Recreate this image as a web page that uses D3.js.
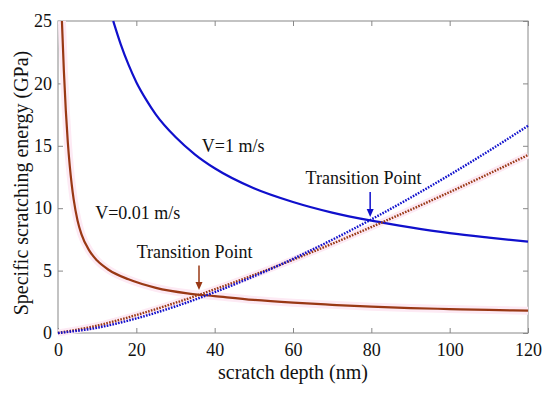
<!DOCTYPE html>
<html>
<head>
<meta charset="utf-8">
<script src="https://cdn.jsdelivr.net/npm/d3@7"></script>
<style>
  body { margin: 0; background: #fff; }
  text { font-family: "Liberation Serif", "Times New Roman", serif; fill: #111; }
</style>
</head>
<body>
<div id="chart-area"></div>
<script>
// Data
let lowDepth = [1.0, 1.5, 2, 2.5, 3, 3.5, 4, 5, 6, 8, 10, 13, 18, 25, 33, 40, 50, 60, 70, 80, 90, 100, 110, 120]
let lowEnergy = [25, 21, 17.8, 15.3, 13.4, 11.9, 10.7, 9.0, 7.9, 6.6, 5.8, 5.05, 4.3, 3.62, 3.18, 2.96, 2.65, 2.43, 2.26, 2.11, 2.0, 1.92, 1.85, 1.79]

let highDepth = [14.1, 16, 18, 20, 22.5, 25, 30, 35, 40, 50, 60, 70, 80, 90, 100, 110, 120]
let highEnergy = [25, 23.15, 21.5, 20.1, 18.7, 17.5, 15.7, 14.3, 13.2, 11.6, 10.5, 9.65, 9.0, 8.46, 8.0, 7.64, 7.32]

let dotDepth = [0, 10, 20, 30, 40, 50, 60, 70, 80, 90, 100, 110, 120]
let lowDotted = [0, 0.59, 1.44, 2.42, 3.5, 4.65, 5.87, 7.15, 8.49, 9.87, 11.29, 12.76, 14.26]
let highDotted = [0, 0.42, 1.17, 2.13, 3.27, 4.54, 5.94, 7.47, 9.1, 10.84, 12.67, 14.59, 16.6]

let xTicks = [0, 20, 40, 60, 80, 100, 120]
let yTicks = [0, 5, 10, 15, 20, 25]

let margin = { left: 58, right: 22, top: 21, bottom: 60 }
let width = 550 - margin.left - margin.right
let height = 393 - margin.top - margin.bottom

let blue = '#1010cc'
let brown = '#993814'

let svg = d3.select('#chart-area').append('svg')
  .attr('width', 550)
  .attr('height', 393)

let g = svg.append('g')
  .attr('transform', 'translate(' + margin.left + ', ' + margin.top + ')')

let x = d3.scaleLinear().domain([0, 120]).range([0, width])
let y = d3.scaleLinear().domain([0, 25]).range([height, 0])

// Axes (MATLAB style: ticks inside, on all sides)
let axisColor = '#888'
function styleAxis(sel) {
  sel.select('.domain').remove()
  sel.selectAll('.tick line').attr('stroke', axisColor)
  sel.selectAll('.tick text').style('font-size', '18px').attr('fill', '#111')
}

g.append('g')
  .attr('transform', 'translate(0, ' + height + ')')
  .call(d3.axisBottom(x).tickValues(xTicks).tickSizeInner(-5).tickSizeOuter(0))
  .call(styleAxis)
  .call(ax => ax.selectAll('.tick text').attr('y', 23).attr('dy', null))

g.append('g')
  .call(d3.axisTop(x).tickValues(xTicks).tickSizeInner(-5).tickSizeOuter(0).tickFormat(''))
  .call(styleAxis)

g.append('g')
  .call(d3.axisLeft(y).tickValues(yTicks).tickSizeInner(-5).tickSizeOuter(0))
  .call(styleAxis)
  .call(ax => ax.selectAll('.tick text').attr('x', -6))

g.append('g')
  .attr('transform', 'translate(' + width + ', 0)')
  .call(d3.axisRight(y).tickValues(yTicks).tickSizeInner(-5).tickSizeOuter(0).tickFormat(''))
  .call(styleAxis)

g.append('rect')
  .attr('width', width)
  .attr('height', height)
  .attr('fill', 'none')
  .attr('stroke', axisColor)
  .attr('stroke-width', 1)

// Axis labels
g.append('text')
  .attr('x', x(60))
  .attr('y', height + 46)
  .attr('text-anchor', 'middle')
  .style('font-size', '20px')
  .text('scratch depth (nm)')

g.append('text')
  .attr('transform', 'translate(' + (-30) + ', ' + (y(12.5) + 6) + ') rotate(-90)')
  .attr('text-anchor', 'middle')
  .style('font-size', '20px')
  .text('Specific scratching energy (GPa)')

// Lines
let line = d3.line()
  .x((d) => { return x(d[0]) })
  .y((d) => { return y(d[1]) })
  .curve(d3.curveMonotoneX)

let plot = g.append('g')

function series(xs, ys) {
  return xs.map((v, i) => { return [v, ys[i]] })
}

// faint pink halo around the brown curves
plot.append('path')
  .attr('fill', 'none')
  .attr('stroke', '#fdeaf4')
  .attr('stroke-width', 8)
  .attr('d', line(series(lowDepth, lowEnergy)))
plot.append('path')
  .attr('fill', 'none')
  .attr('stroke', '#fdeaf4')
  .attr('stroke-width', 7)
  .attr('d', line(series(dotDepth, lowDotted)))

plot.append('path')
  .attr('fill', 'none')
  .attr('stroke', blue)
  .attr('stroke-width', 2.2)
  .attr('d', line(series(highDepth, highEnergy)))

plot.append('path')
  .attr('fill', 'none')
  .attr('stroke', brown)
  .attr('stroke-width', 2.2)
  .attr('d', line(series(lowDepth, lowEnergy)))

plot.append('path')
  .attr('fill', 'none')
  .attr('stroke', brown)
  .attr('stroke-width', 2.4)
  .attr('stroke-dasharray', '1.6,1.3')
  .attr('d', line(series(dotDepth, lowDotted)))

plot.append('path')
  .attr('fill', 'none')
  .attr('stroke', blue)
  .attr('stroke-width', 2.4)
  .attr('stroke-dasharray', '1.6,1.3')
  .attr('d', line(series(dotDepth, highDotted)))

// Annotations
function label(txt, xv, yv) {
  g.append('text')
    .attr('x', x(xv))
    .attr('y', y(yv))
    .style('font-size', '18px')
    .text(txt)
}
label('V=1 m/s', 36.7, 14.5)
label('V=0.01 m/s', 9.5, 9.1)
label('Transition Point', 63.2, 11.94)
label('Transition Point', 20.1, 6.0)

function arrow(xv, y1, y2, color) {
  let tip = y(y2)
  g.append('line')
    .attr('x1', x(xv)).attr('x2', x(xv))
    .attr('y1', y(y1)).attr('y2', tip - 6)
    .attr('stroke', color)
    .attr('stroke-width', 1.5)
  g.append('path')
    .attr('d', 'M' + (x(xv) - 3.5) + ',' + (tip - 8) + 'L' + (x(xv) + 3.5) + ',' + (tip - 8) + 'L' + x(xv) + ',' + tip + 'Z')
    .attr('fill', color)
}
arrow(79.7, 11.3, 9.3, blue)
arrow(36.0, 5.4, 3.45, brown)
</script>
</body>
</html>
